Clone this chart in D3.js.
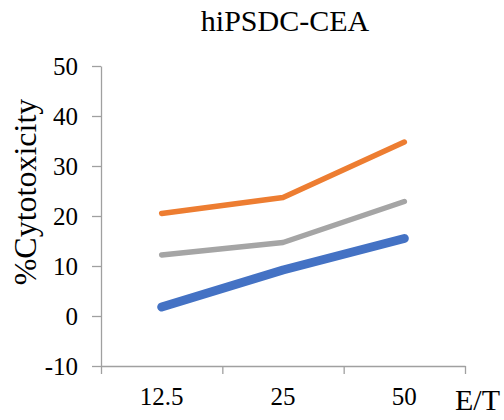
<!DOCTYPE html>
<html>
<head>
<meta charset="utf-8">
<script src="https://cdn.jsdelivr.net/npm/d3@7"></script>
<style>
  body { margin: 0; background: #fff; }
  text { font-family: "Liberation Serif", "Times New Roman", serif; fill: #000; }
</style>
</head>
<body>
<div id="chart"></div>
<script>
// chart data
var categories = ["12.5", "25", "50"];
var orangeValues = [20.5, 23.7, 34.8];
var grayValues = [12.2, 14.7, 22.9];
var blueValues = [1.8, 9.2, 15.5];
var yTicks = [-10, 0, 10, 20, 30, 40, 50];

var series = [
    {name: "gray", values: grayValues, color: "#A5A5A5", width: 5.5},
    {name: "orange", values: orangeValues, color: "#ED7D31", width: 5.5},
    {name: "blue", values: blueValues, color: "#4472C4", width: 9}
];

var width = 504, height = 420;
var margin = {top: 66, right: 39, bottom: 54, left: 101};
var serif = '"Liberation Serif", "Times New Roman", serif';

var svg = d3.select("#chart")
    .append("svg")
    .attr("width", width)
    .attr("height", height);

var x = d3.scaleBand()
    .domain(categories)
    .range([margin.left, width - margin.right])
    .padding(0);

var y = d3.scaleLinear()
    .domain([-10, 50])
    .range([height - margin.bottom, margin.top]);

// Y axis
var yAxis = svg.append("g")
    .attr("transform", "translate(" + margin.left + ",0)")
    .call(d3.axisLeft(y).tickValues(yTicks).tickSize(9).tickPadding(14).tickSizeOuter(0)
        .tickFormat(function(d) { return String(d); }));
yAxis.attr("font-family", serif).attr("font-size", 25);
yAxis.select(".domain").attr("stroke", "#A0A0A0").attr("stroke-width", 1.3);
yAxis.selectAll(".tick line").attr("stroke", "#A0A0A0").attr("stroke-width", 1.3);
yAxis.selectAll(".tick text").attr("dy", "0.34em");

// X axis: ticks at band edges
var edges = d3.scaleLinear().domain([0, categories.length]).range(x.range());
var xAxis = svg.append("g")
    .attr("transform", "translate(0," + y(-10) + ")")
    .call(d3.axisBottom(edges).ticks(categories.length).tickFormat("").tickSize(8).tickSizeOuter(0));
xAxis.select(".domain").attr("stroke", "#A0A0A0").attr("stroke-width", 1.3);
xAxis.selectAll(".tick line").attr("stroke", "#A0A0A0").attr("stroke-width", 1.3);

svg.append("g")
    .selectAll("text")
    .data(categories)
    .enter()
    .append("text")
    .attr("x", function(d) { return x(d) + x.bandwidth() / 2; })
    .attr("y", 405)
    .attr("text-anchor", "middle")
    .style("font-size", "25px")
    .text(function(d) { return d; });

// lines
var line = d3.line()
    .x(function(d, i) { return x(categories[i]) + x.bandwidth() / 2; })
    .y(function(d) { return y(d); });

svg.append("g")
    .selectAll("path")
    .data(series)
    .enter()
    .append("path")
    .attr("d", function(d) { return line(d.values); })
    .attr("fill", "none")
    .attr("stroke", function(d) { return d.color; })
    .attr("stroke-width", function(d) { return d.width; })
    .attr("stroke-linecap", "round")
    .attr("stroke-linejoin", "round");

// title and labels
svg.append("text")
    .attr("x", 285)
    .attr("y", 31)
    .attr("text-anchor", "middle")
    .style("font-size", "30px")
    .text("hiPSDC-CEA");

svg.append("text")
    .attr("transform", "translate(36,192) rotate(-90)")
    .attr("text-anchor", "middle")
    .style("font-size", "32px")
    .text("%Cytotoxicity");

svg.append("text")
    .attr("x", 455)
    .attr("y", 410)
    .style("font-size", "30px")
    .text("E/T");
</script>
</body>
</html>
